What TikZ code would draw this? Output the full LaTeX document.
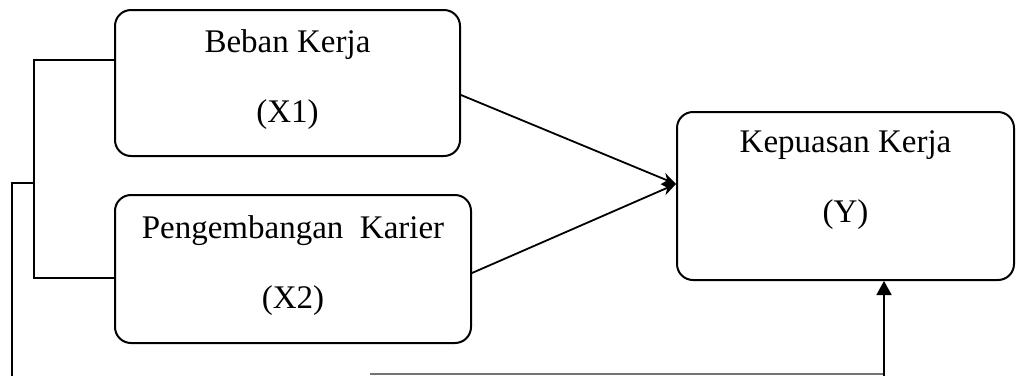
\documentclass[tikz,border=0pt]{standalone}
\usepackage{fontspec}
\setmainfont{Liberation Serif}
\usetikzlibrary{arrows.meta}
\tikzset{
    var box/.style n args={2}{draw, line width=1pt, rounded corners=8pt, minimum width=#1, minimum height=#2, inner sep=0pt}, % kotak variabel
    var text/.style={align=center, font=\fontsize{16.5}{35}\selectfont}, % teks dalam kotak
    link/.style={line width=0.9pt}, % garis penghubung
    to y/.style={link, -{Stealth[length=7pt, width=6pt]}}
}

\begin{document}
\begin{tikzpicture}[x=0.5pt, y=-0.5pt]
            \def\picw{1016} \def\pich{376}
            \useasboundingbox (0,0) rectangle (\picw,\pich);

            \node[var box={172.5pt}{73pt}] (x1) at (287.5,83) {};
            \node[var box={178pt}{74pt}] (x2) at (293,269) {};
            \node[var box={168.5pt}{84pt}] (y) at (845.5,196) {};

            \node[var text] (x1lab) at (287.5,80) {Beban Kerja\\(X1)};
            \node[var text] (x2lab) at (293,266) {Pengembangan\ \ Karier\\(X2)};
            \node[var text] (ylab) at (845.5,180) {Kepuasan Kerja\\(Y)};

            % panah ke Y
            \draw[to y] ([yshift=-6pt]x1.east) -- ([yshift=6pt]y.west);
            \draw[to y] ([yshift=-2pt]x2.east) -- ([yshift=6pt]y.west);

            % kurung kiri
            \coordinate (brtop) at (34,60);
            \coordinate (brbot) at (34,278);
            \coordinate (brmid) at (34,183);
            \draw[link] (x1.west |- brtop) -- (brtop) -- (brbot) -- (x2.west |- brbot);
            \draw[link] (brmid) -- (12,183) -- (12,\pich);

            % garis bawah
            \coordinate (lnstart) at (370,374);
            \coordinate (lncorner) at (884,374);
            \coordinate (yin) at ([xshift=19.25pt]y.south);
            \draw[link, black!55] (lnstart) -- (lncorner);
            \draw[link, -{Triangle[length=7pt, width=7.5pt]}] (884,\pich) -- (yin);
        \end{tikzpicture}
\end{document}
